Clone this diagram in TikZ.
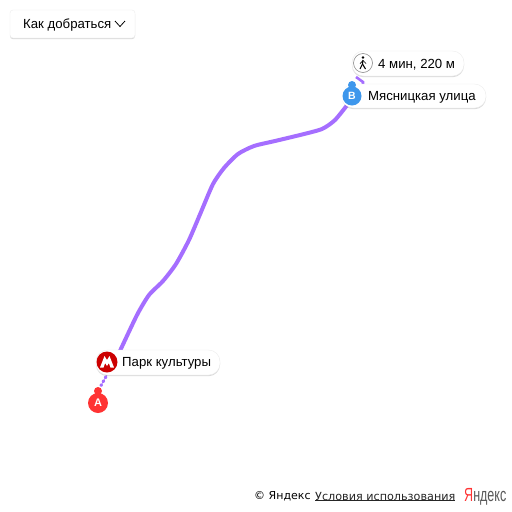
\documentclass[tikz,border=0pt]{standalone}
\usepackage{fontspec}
\setmainfont{Liberation Sans}
\newfontfamily\dejavu{DejaVu Sans}
\usetikzlibrary{shadows}
\definecolor{routeviolet}{HTML}{A56EFF}
\definecolor{markerred}{HTML}{FF3333}
\definecolor{markerblue}{HTML}{3E97EC}
\definecolor{metrored}{HTML}{CC0000}
\tikzset{
  pill/.style = {draw=black!7, fill=white, rounded corners=11.5pt, minimum height=25pt, inner sep=0pt, drop shadow={shadow xshift=0pt, shadow yshift=-1.2pt, opacity=0.28}},
  route/.style = {routeviolet, line width=4pt, line join=round, line cap=round},
  walkway/.style = {routeviolet, line width=3pt, dash pattern=on 1.5pt off 3pt, line cap=round},
  label/.style = {inner sep=0pt, anchor=west, yshift=-1pt, font=\fontsize{13.2}{15}\selectfont}
}
\begin{document}
\begin{tikzpicture}[x=1pt, y=-1pt]
\useasboundingbox (0,0) rectangle (512,512);
\fill[white] (0,0) rectangle (512,512);

% route
\coordinate (parkend) at (119,353);
\coordinate (markA) at (98,391);
\coordinate (myasend) at (348,104);
\coordinate (walkend) at (363,82);
\coordinate (walkstart) at (356,77);
\draw[route] plot [smooth, tension=0.4] coordinates {(parkend) (137,315) (149,295) (163,281) (176,264) (189,240) (201,212) (213,184) (224,168) (238,154) (254,146) (275,141) (300,135) (322,129) (335,120) (myasend)};
\draw[walkway] (parkend) -- (markA);
\draw[routeviolet, line width=2.6pt] (walkstart) -- (walkend) -- (363,85);

% button
\node[pill, rounded corners=3pt, minimum width=125pt, minimum height=28pt] (button) at (72.5,24) {};
\node[label] (buttontext) at (23,24.5) {Как добраться};
\draw[black, line width=0.8pt] (115,21) -- (120,26.5) -- (125,21);

% park
\node[pill, minimum width=124pt] (park) at (158,362.5) {};
\fill[metrored] (107,362) circle (10.5pt);
\fill[white] (100,367.5) -- (104.5,356) -- (107,360) -- (109.5,356) -- (114,367.5) -- (110.5,367.5) -- (108.8,363) -- (107,366) -- (105.2,363) -- (103.5,367.5) -- cycle;
\node[label] (parktext) at (122,362.5) {Парк культуры};

% myasnitskaya
\node[pill, minimum width=144pt, minimum height=24pt] (myas) at (414,96) {};
\node[label] (myastext) at (368,96.5) {Мясницкая улица};

% walk
\node[pill, minimum width=112pt] (walk) at (408,63.5) {};
\draw[black!45, fill=white, line width=0.6pt] (363,63) circle (9.5pt);
\fill[black] (363,57.5) circle (1.3pt);
\draw[black, line width=1.1pt] (363,60) -- (362.5,64) -- (360,69);
\draw[black, line width=1.1pt] (362.5,64) -- (365.5,69);
\draw[black, line width=0.7pt] (363,60.5) -- (360,63.5);
\draw[black, line width=0.7pt] (363,60.5) -- (366,63.5);
\node[label] (walktext) at (378,63.5) {4 мин, 220 м};

% markers
\fill[white] (98,403) circle (12pt);
\fill[white] (98,391) circle (5.5pt);
\fill[markerred] (98,403) circle (10pt);
\fill[markerred] (98,391) circle (4pt);
\draw[markerred, line width=2pt] (98,391) -- (98,398);
\node[white, inner sep=0pt, font=\bfseries\fontsize{11}{11}\selectfont] (a) at (98,403) {А};
\fill[white] (352,96) circle (11pt);
\fill[white] (352,85) circle (5.5pt);
\fill[markerblue] (352,96) circle (9.5pt);
\fill[markerblue] (352,85) circle (4pt);
\draw[markerblue, line width=2pt] (352,85) -- (352,92);
\node[white, inner sep=0pt, font=\bfseries\fontsize{10.5}{11}\selectfont] (b) at (352,96) {В};

% footer
\node[label, font=\dejavu\fontsize{11}{12}\selectfont] (copy) at (254,495) {© Яндекс};
\node[label, font=\dejavu\fontsize{11.2}{12}\selectfont, black!85] (terms) at (315,495) {Условия использования};
\draw[black!85, line width=0.6pt] (315,500.5) -- (455,500.5);
\node[label, font=\fontsize{19}{20}\selectfont] (logo) at (464,496) {\scalebox{0.66}[1]{\textcolor{markerred}{Я}\textcolor{black!65}{ндекс}}};
\end{tikzpicture}
\end{document}
